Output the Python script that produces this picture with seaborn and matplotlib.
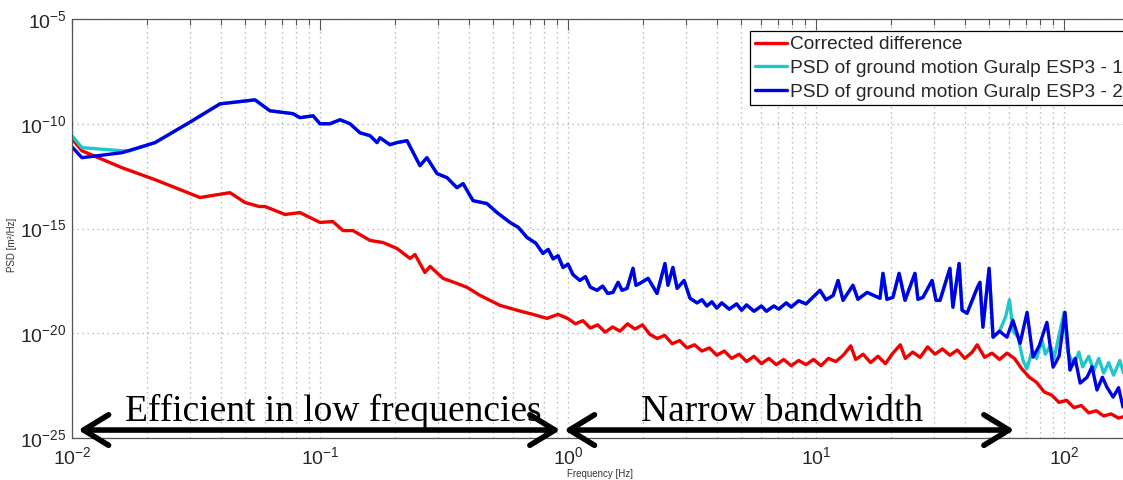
import numpy as np
import pandas as pd
import matplotlib
matplotlib.use('Agg')
import matplotlib.pyplot as plt
import matplotlib.ticker as mticker
import seaborn as sns

# values, stored as log10(frequency [Hz]) and log10(PSD)
red_logf = [-2.000, -1.960, -1.798, -1.665, -1.484, -1.363, -1.302, -1.246, -1.222, -1.141,
            -1.081, -1.000, -0.948, -0.907, -0.867, -0.798, -0.746, -0.690, -0.637, -0.617,
            -0.577, -0.556, -0.504, -0.448, -0.407, -0.355, -0.274, -0.206, -0.141, -0.085,
            -0.040,
            0.00, 0.03, 0.06, 0.09, 0.12, 0.15, 0.18, 0.21, 0.24, 0.27, 0.30, 0.33, 0.36, 0.39,
            0.42, 0.45, 0.48, 0.51, 0.54, 0.57, 0.60, 0.63, 0.66, 0.69, 0.72, 0.75, 0.78, 0.81,
            0.84, 0.87, 0.90, 0.93, 0.96, 0.99, 1.02, 1.05, 1.08, 1.11, 1.14, 1.16, 1.19, 1.22,
            1.25, 1.28, 1.31, 1.34, 1.36, 1.39, 1.42, 1.45, 1.48, 1.51, 1.54, 1.57, 1.60, 1.63,
            1.65, 1.68, 1.71, 1.74, 1.77, 1.80, 1.83, 1.86, 1.89, 1.92, 1.95, 1.98, 2.01, 2.04,
            2.07, 2.10, 2.13, 2.16, 2.19, 2.22, 2.25, 2.28, 2.31]
red_logp = [-10.71, -11.29, -12.10, -12.67, -13.52, -13.29, -13.76, -13.95, -13.95, -14.33,
            -14.24, -14.71, -14.67, -15.10, -15.10, -15.57, -15.67, -15.95, -16.43, -16.24,
            -17.10, -16.81, -17.38, -17.62, -17.81, -18.19, -18.67, -18.90, -19.10, -19.29,
            -19.10,
            -19.30, -19.55, -19.40, -19.75, -19.60, -19.95, -19.70, -19.90, -19.55, -19.80,
            -19.60, -20.05, -20.25, -20.10, -20.50, -20.35, -20.70, -20.55, -20.85, -20.70,
            -21.05, -20.85, -21.20, -21.00, -21.35, -21.10, -21.45, -21.20, -21.50, -21.25,
            -21.55, -21.30, -21.50, -21.25, -21.55, -21.20, -21.35, -21.05, -20.60, -21.25,
            -21.00, -21.40, -21.10, -21.45, -20.95, -20.55, -21.20, -20.90, -21.15, -20.65,
            -21.00, -20.75, -21.05, -20.80, -21.20, -20.90, -20.55, -21.15, -20.95, -21.25,
            -20.95, -21.20, -21.70, -22.10, -22.35, -22.80, -22.95, -23.30, -23.20, -23.55,
            -23.45, -23.80, -23.70, -23.95, -23.85, -24.05, -23.95, -24.15, -24.05]

blue_logf = [-2.000, -1.960, -1.798, -1.665, -1.528, -1.403, -1.262, -1.202, -1.109, -1.081,
             -1.028, -1.000, -0.960, -0.919, -0.879, -0.839, -0.798, -0.770, -0.758, -0.718,
             -0.690, -0.649, -0.597, -0.569, -0.528, -0.488, -0.448, -0.423, -0.383, -0.327,
             -0.286, -0.234, -0.200, -0.165, -0.130, -0.101, -0.080, -0.060, -0.040, -0.020,
             0.000, 0.020, 0.048, 0.070, 0.090, 0.117, 0.140, 0.160, 0.181, 0.202, 0.218,
             0.238, 0.262, 0.274, 0.290, 0.323, 0.359, 0.391, 0.403, 0.423, 0.440, 0.468,
             0.492, 0.52, 0.54, 0.56, 0.58, 0.60, 0.62, 0.65, 0.68, 0.70, 0.72, 0.75, 0.78,
             0.80, 0.83, 0.85, 0.88, 0.90, 0.93, 0.96, 0.99, 1.016, 1.04, 1.069, 1.089, 1.109,
             1.149, 1.169, 1.206, 1.258, 1.270, 1.286, 1.310, 1.335, 1.359, 1.399, 1.411,
             1.431, 1.468, 1.484, 1.500, 1.540, 1.552, 1.577, 1.589, 1.609, 1.649, 1.661,
             1.673, 1.698, 1.714, 1.740, 1.770, 1.794, 1.823, 1.851, 1.875, 1.900, 1.931,
             1.956, 1.980, 2.004, 2.024, 2.045, 2.065, 2.093, 2.113, 2.133, 2.155, 2.173,
             2.198, 2.220, 2.238, 2.270, 2.306]
blue_logp = [-11.10, -11.62, -11.38, -10.90, -9.95, -9.05, -8.86, -9.38, -9.52, -9.71,
             -9.62, -10.00, -10.00, -9.81, -10.00, -10.43, -10.57, -10.90, -10.67, -11.00,
             -10.90, -10.81, -12.00, -11.62, -12.38, -12.57, -13.05, -12.86, -13.67, -13.81,
             -14.24, -14.71, -14.95, -15.43, -15.70, -16.19, -16.00, -16.45, -16.30, -16.86,
             -16.70, -17.20, -17.48, -17.30, -17.80, -17.95, -17.75, -18.10, -18.05, -17.57,
             -17.95, -17.86, -16.90, -17.71, -17.62, -17.38, -18.10, -16.67, -17.71, -16.86,
             -17.86, -17.48, -18.33, -18.55, -18.40, -18.70, -18.50, -18.80, -18.55, -18.85,
             -18.60, -18.90, -18.65, -18.95, -18.70, -18.95, -18.70, -18.85, -18.55, -18.75,
             -18.45, -18.60, -18.25, -17.95, -18.40, -18.20, -17.48, -18.43, -17.71, -18.38,
             -18.05, -18.33, -17.14, -18.38, -18.29, -17.14, -18.43, -17.14, -18.38, -18.29,
             -17.48, -18.43, -18.43, -16.90, -18.76, -16.67, -18.90, -19.05, -17.86, -17.57,
             -19.71, -16.90, -20.19, -19.90, -20.19, -19.38, -20.48, -19.00, -21.14, -20.60,
             -19.48, -21.62, -21.10, -19.00, -21.76, -21.20, -22.38, -22.10, -21.60, -22.71,
             -22.10, -22.57, -23.05, -22.60, -23.52, -22.90, -23.20]

cyan_low_logf = [-2.000, -1.960, -1.798, -1.766]
cyan_low_logp = [-10.57, -11.14, -11.29, -11.29]
cyan_high_logf = [1.765, 1.780, 1.795, 1.815, 1.835, 1.850, 1.870, 1.890, 1.910, 1.925,
                  1.945, 1.960, 2.000, 2.015, 2.040, 2.060, 2.075, 2.100, 2.120, 2.140,
                  2.160, 2.180, 2.200, 2.225, 2.240, 2.270, 2.310]
cyan_high_logp = [-19.20, -18.40, -19.90, -20.20, -21.30, -21.70, -20.90, -21.20, -20.30, -21.00,
                  -20.60, -21.20, -19.00, -20.90, -21.50, -20.90, -21.60, -21.10, -21.80, -21.20,
                  -21.90, -21.40, -22.00, -21.30, -21.90, -21.60, -22.00]

labels = ['Corrected difference',
          'PSD of ground motion Guralp ESP3 - 1',
          'PSD of ground motion Guralp ESP3 - 2']
colors = ['#f00000', '#1fc8c8', '#0000e6']

# band annotations: text, arrow start / end [Hz]
band_text = ['Efficient in low frequencies', 'Narrow bandwidth']
band_from = [0.0106, 0.965]
band_to = [0.93, 63.0]
band_text_x = [0.113, 7.3]

# cyan follows the blue sensor except at the two ends
mid = [(f, p) for f, p in zip(blue_logf, blue_logp) if -1.766 < f < 1.765]
cyan_logf = cyan_low_logf + [m[0] for m in mid] + cyan_high_logf
cyan_logp = cyan_low_logp + [m[1] for m in mid] + cyan_high_logp

series = [(red_logf, red_logp), (cyan_logf, cyan_logp), (blue_logf, blue_logp)]

sns.set_style('white')
plt.rcParams['font.family'] = ['Liberation Sans', 'DejaVu Sans']
plt.rcParams['mathtext.fontset'] = 'custom'
plt.rcParams['mathtext.rm'] = 'Liberation Sans'
plt.rcParams['mathtext.it'] = 'Liberation Sans:italic'

fig = plt.figure(figsize=(11.23, 4.8), dpi=100)
# axes run a little past the right edge of the picture, like the cropped original
ax = fig.add_axes([72 / 1123, 42 / 480, 4.3 * 248 / 1123, 419 / 480])

for (lf, lp), lab, col in zip(series, labels, colors):
    df = pd.DataFrame({'f': 10 ** np.array(lf), 'psd': 10 ** np.array(lp)})
    sns.lineplot(data=df, x='f', y='psd', estimator=None, sort=False,
                 color=col, lw=2.4, label=lab, ax=ax)

ax.set_xscale('log')
ax.set_yscale('log')
ax.set_xlim(1e-2, 10 ** 2.3)
ax.set_ylim(1e-25, 1e-5)
ax.set_yticks([1e-25, 1e-20, 1e-15, 1e-10, 1e-5])
ax.yaxis.set_minor_locator(mticker.NullLocator())
ax.xaxis.set_minor_locator(mticker.LogLocator(base=10, subs=np.arange(2, 10), numticks=50))
ax.xaxis.set_major_locator(mticker.LogLocator(base=10, numticks=20))

grid_kw = dict(ls=(0, (1, 3)), color='#a8a8a8', lw=0.9)
ax.grid(True, which='major', axis='both', **grid_kw)
ax.grid(True, which='minor', axis='x', **grid_kw)
ax.tick_params(which='major', direction='in', length=8, width=0.8, color='#555555',
               labelsize=14, top=True, pad=4)
ax.tick_params(which='minor', direction='in', length=4, width=0.8, color='#555555', top=True)
ax.tick_params(axis='x', which='major', pad=6)
for s in ax.spines.values():
    s.set_color('#555555')
    s.set_linewidth(0.9)

ax.set_xlabel('Frequency [Hz]', fontsize=7, color='#333333')
ax.set_ylabel('PSD [m²/Hz]', fontsize=7, color='#333333')
ax.xaxis.set_label_coords((600 - 72) / (4.3 * 248), -0.075)
ax.yaxis.set_label_coords(-(72 - 17) / (4.3 * 248), 0.46)

for txt, a, b, tx in zip(band_text, band_from, band_to, band_text_x):
    ax.annotate('', xy=(b, 2.4e-25), xytext=(a, 2.4e-25),
                arrowprops=dict(arrowstyle='<->,head_length=0.9,head_width=0.55',
                                lw=4, color='black', shrinkA=0, shrinkB=0,
                                mutation_scale=20))
    ax.text(tx, 6.5e-25, txt, fontsize=27, family='Liberation Serif', ha='center',
            va='baseline', color='black')

ax.legend(loc='upper left', bbox_to_anchor=(750 / 1123, 1 - 31 / 480),
          bbox_transform=fig.transFigure, frameon=True, fancybox=False,
          edgecolor='black', framealpha=1, fontsize=13.8, borderpad=0.25,
          handlelength=1.7, handletextpad=0.12, labelspacing=0.33, borderaxespad=0)
ax.get_legend().get_frame().set_linewidth(0.9)

fig.savefig('out.png', dpi=100)
